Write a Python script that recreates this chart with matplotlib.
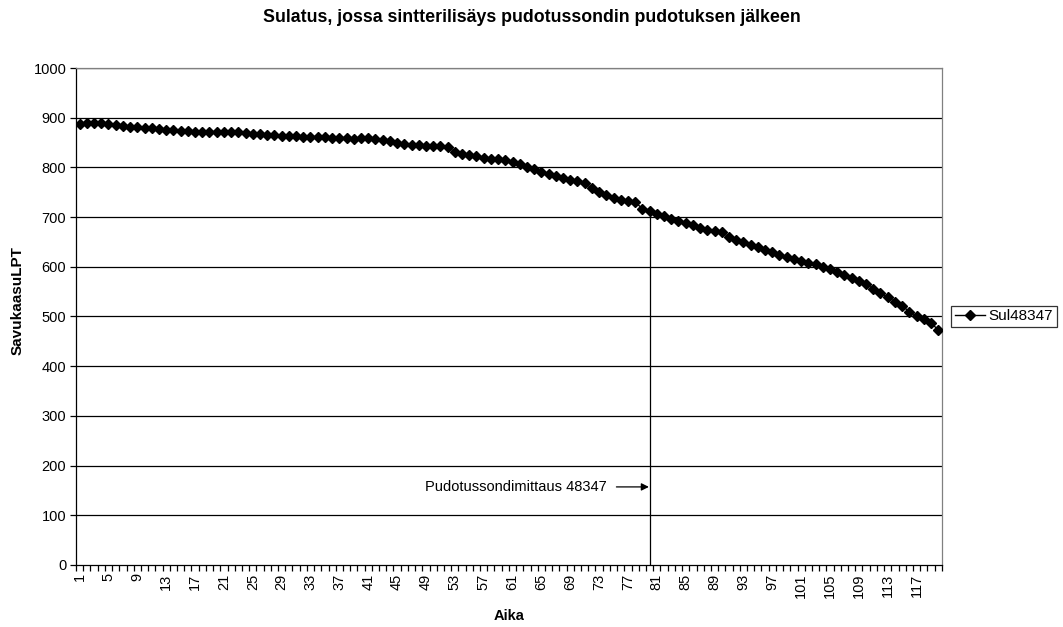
import matplotlib.pyplot as plt
import numpy as np

plt.rcParams['font.family'] = ['Liberation Sans', 'DejaVu Sans']

# ==============================
# DATA
# ==============================

title = "Sulatus, jossa sintterilisäys pudotussondin pudotuksen jälkeen"
series_name = "Sul48347"

savukaasu = [
    887, 889, 890, 890, 887, 885, 883, 882, 881, 880,
    879, 877, 875, 875, 873, 873, 872, 872, 872, 871,
    871, 871, 871, 870, 868, 867, 866, 865, 864, 864,
    863, 862, 862, 862, 861, 860, 860, 860, 858, 859,
    860, 858, 856, 854, 850, 847, 846, 845, 844, 844,
    843, 842, 831, 826, 824, 822, 818, 817, 816, 814,
    811, 807, 801, 796, 791, 787, 783, 778, 775, 772,
    769, 758, 750, 744, 739, 734, 732, 730, 717, 712,
    707, 702, 697, 693, 689, 684, 679, 675, 673, 671,
    659, 654, 650, 644, 640, 634, 629, 623, 619, 616,
    612, 608, 605, 600, 595, 589, 583, 578, 571, 565,
    556, 547, 539, 530, 521, 510, 501, 495, 487, 473,
]
aika = np.arange(1, len(savukaasu) + 1)

mittaus_kohta = 80
mittaus_teksti = "Pudotussondimittaus 48347"
mittaus_taso = 157

y_ticks = list(range(0, 1001, 100))
x_labels = list(range(1, len(savukaasu) + 1, 4))

# ==============================
# CHART
# ==============================

fig = plt.figure(figsize=(10.63, 6.27), dpi=100)
ax = fig.add_axes([0.0715, 0.099, 0.8145, 0.7925])

for y in y_ticks[1:]:
    ax.axhline(y, color="black", linewidth=0.9, zorder=1)

line, = ax.plot(aika, savukaasu, color="black", linewidth=1.0,
                marker="D", markersize=4.8, markerfacecolor="black",
                markeredgecolor="black", zorder=3, label=series_name)

# measurement marker line and its label
ax.plot([mittaus_kohta, mittaus_kohta],
        [0, savukaasu[mittaus_kohta - 1]],
        color="black", linewidth=0.9, zorder=2)
ax.annotate("", xy=(mittaus_kohta - 0.1, mittaus_taso),
            xytext=(mittaus_kohta - 4.6, mittaus_taso),
            arrowprops=dict(arrowstyle="-|>", color="black", lw=0.9,
                            mutation_scale=11, shrinkA=0, shrinkB=0))
ax.text(mittaus_kohta - 6.0, mittaus_taso, mittaus_teksti,
        ha="right", va="center", fontsize=10.5)

ax.set_xlim(0.5, len(savukaasu) + 0.5)
ax.set_ylim(0, 1000)

ax.set_yticks(y_ticks)
ax.tick_params(axis="y", labelsize=10.5, length=4, width=0.9,
               direction="out", pad=3)

ax.set_xticks(x_labels)
ax.set_xticklabels([str(v) for v in x_labels], rotation=90)
ax.set_xticks(np.arange(0.5, len(savukaasu) + 1), minor=True)
ax.tick_params(axis="x", which="major", labelsize=10.5, length=0, pad=6)
ax.tick_params(axis="x", which="minor", length=4, width=0.9, direction="out")

for side in ["top", "right"]:
    ax.spines[side].set_color("#808080")
    ax.spines[side].set_linewidth(0.9)
for side in ["left", "bottom"]:
    ax.spines[side].set_color("black")
    ax.spines[side].set_linewidth(0.9)

fig.text(0.5, 1 - 17 / 627, title, ha="center", va="center",
         fontsize=12.8, fontweight="bold")
ax.set_xlabel("Aika", fontsize=10.5, fontweight="bold", labelpad=8)
ax.set_ylabel("SavukaasuLPT", fontsize=11, fontweight="bold",
              va="center")
ax.yaxis.set_label_coords(-0.068, 0.533)

leg = fig.legend(handles=[line], loc="center left",
                 bbox_to_anchor=(951 / 1063, 1 - 316.5 / 627),
                 fontsize=11, frameon=True, fancybox=False,
                 handlelength=2.0, handletextpad=0.2, borderpad=0.25,
                 borderaxespad=0)
leg.get_frame().set_edgecolor("black")
leg.get_frame().set_linewidth(0.9)

fig.savefig("out.png", dpi=100)
plt.close(fig)
